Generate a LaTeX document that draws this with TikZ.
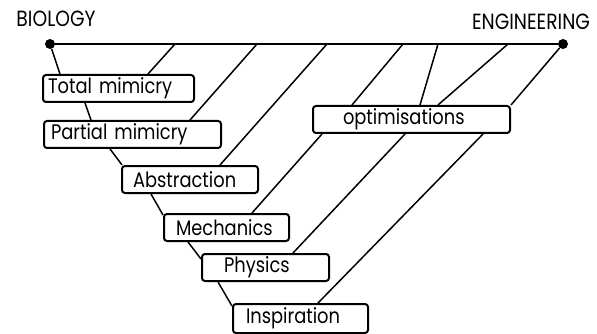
\documentclass[tikz,border=0pt]{standalone}
\usepackage{fontspec}
\setmainfont{Poppins}[FakeStretch=0.85]
\usetikzlibrary{positioning}

\begin{document}
\begin{tikzpicture}[x=1pt, y=-1pt,
        box/.style={rectangle, draw=black, line width=2pt, rounded corners=3pt, anchor=north west, minimum height=27pt, inner ysep=0pt, align=left, font=\fontsize{21}{21}\selectfont},
        link/.style={line width=1.5pt},
        axis/.style={line width=2.8pt},
        dot/.style={circle, fill=black, inner sep=0pt, minimum size=10pt},
        pole/.style={font=\fontsize{22}{22}\selectfont, anchor=base}
    ]
    \useasboundingbox (0,0) rectangle (597,334);

    % Axis between the two poles
    \node[dot] (bio) at (50,44) {};
    \node[dot] (eng) at (563,44) {};
    \node[pole] (biolbl) at (56,27) {BIOLOGY};
    \node[pole] (englbl) at (531,30) {ENGINEERING};
    \draw[axis] (bio) -- (eng);
    \foreach \n/\x in {t1/175, t2/257, t3/327, t4/403, t5/438, t6/508}
        \coordinate (\n) at (\x,44);

    % Boxes
    \node[box, text width=141pt, inner xsep=5pt] (tm) at (42,74) {Total mimicry};
    \node[box, text width=163pt, inner xsep=7pt] (pm) at (43,120) {Partial mimicry};
    \node[box, text width=114pt, inner xsep=11pt] (ab) at (121,165) {Abstraction};
    \node[box, text width=101pt, inner xsep=12pt] (me) at (163,213) {Mechanics};
    \node[box, text width=83pt, inner xsep=22pt] (ph) at (201,253) {Physics};
    \node[box, text width=109pt, inner xsep=13pt, minimum height=29pt] (in) at (232,303) {Inspiration};
    \node[box, text width=137pt, inner xsep=30pt] (op) at (312,105) {optimisations};

    % Left chain
    \draw[link] (bio) -- ([xshift=18pt]tm.north west);
    \draw[link] ([xshift=43pt]tm.south west) -- ([xshift=48pt]pm.north west);
    \draw[link] ([xshift=67pt]pm.south west) -- ([xshift=1pt]ab.north west);
    \draw[link] ([xshift=30pt]ab.south west) -- ([yshift=-2pt]me.north west);
    \draw[link] ([xshift=25pt]me.south west) -- ([yshift=-6pt]ph.north west);
    \draw[link] ([xshift=17pt]ph.south west) -- ([yshift=-3pt]in.north west);

    % Diagonals from the axis
    \draw[link] (t1) -- ([xshift=106pt]tm.north west);
    \draw[link] (t2) -- ([xshift=147pt]pm.north west);
    \draw[link] (t3) -- ([xshift=99pt]ab.north west);
    \draw[link] (t4) -- ([xshift=40pt]op.north west);
    \draw[link] (t5) -- ([xshift=108pt]op.north west);
    \draw[link] (t6) -- ([xshift=126pt]op.north west);
    \draw[link] (eng) -- (op.north east);

    % Diagonals below optimisations
    \draw[link] ([xshift=10pt]op.south west) -- ([xshift=89pt]me.north west);
    \draw[link] ([xshift=93pt]op.south west) -- ([xshift=92pt]ph.north west);
    \draw[link] ([xshift=171pt]op.south west) -- ([xshift=86pt]in.north west);
\end{tikzpicture}
\end{document}
